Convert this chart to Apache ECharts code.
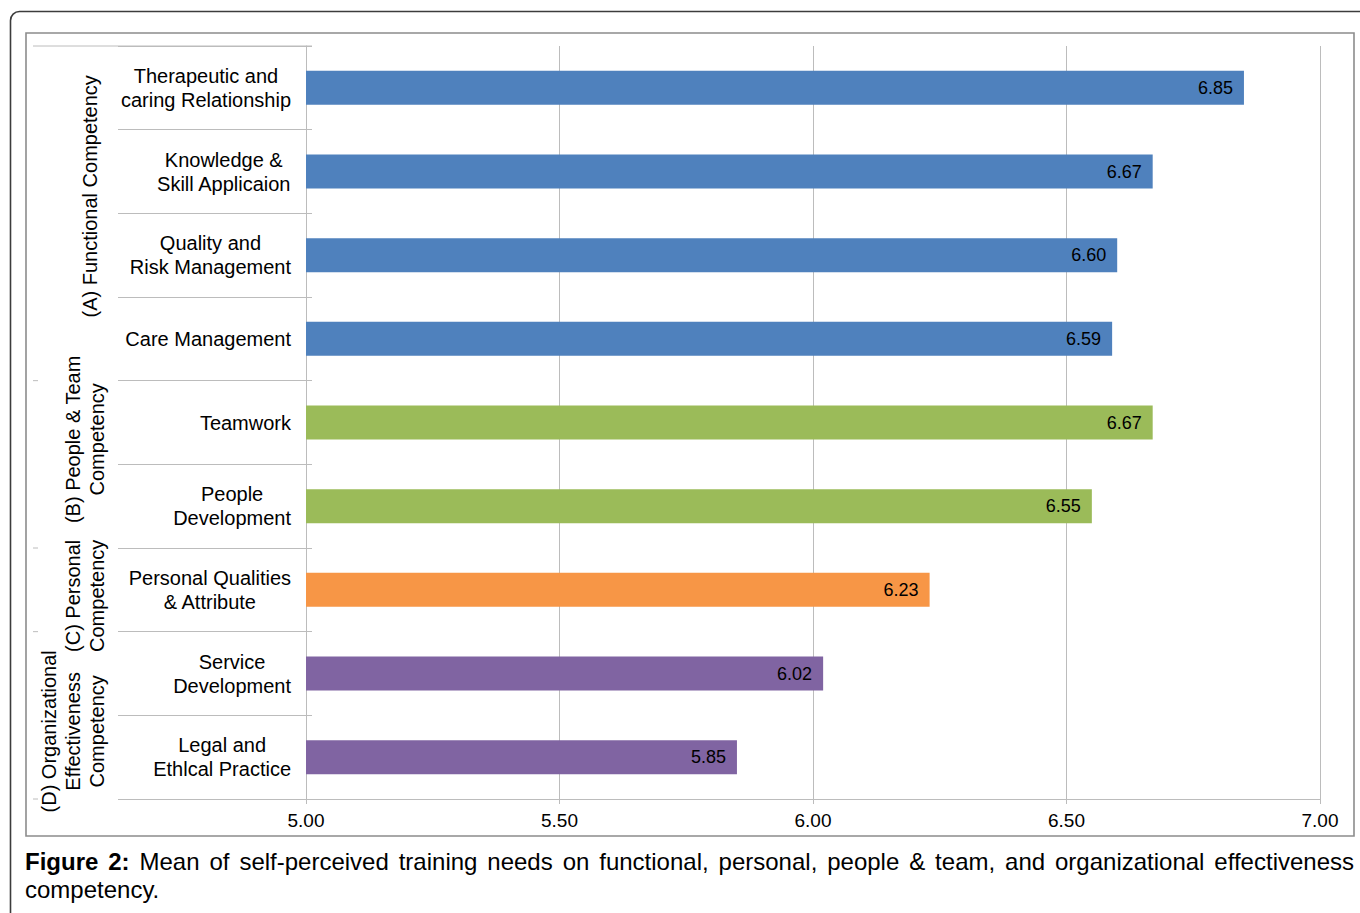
<!DOCTYPE html>
<html>
<head>
<meta charset="utf-8">
<script src="https://cdn.jsdelivr.net/npm/echarts@6/dist/echarts.min.js"></script>
<style>
  html, body { margin: 0; padding: 0; background: #ffffff; }
  #chart { width: 1360px; height: 913px; }
</style>
</head>
<body>
<div id="chart"></div>
<script>
// ---- data ----
const categories = [
  'Therapeutic and\ncaring Relationship',
  'Knowledge &\nSkill Applicaion',
  'Quality and\nRisk Management',
  'Care Management',
  'Teamwork',
  'People\nDevelopment',
  'Personal Qualities\n& Attribute',
  'Service\nDevelopment',
  'Legal and\nEthlcal Practice'
];
const values = [6.85, 6.67, 6.60, 6.59, 6.67, 6.55, 6.23, 6.02, 5.85];
const categoryGroup = [0, 0, 0, 0, 1, 1, 2, 3, 3];
const groupNames = [
  '(A) Functional Competency',
  '(B) People & Team\nCompetency',
  '(C) Personal\nCompetency',
  '(D) Organizational\nEffectiveness\nCompetency'
];
const groupColors = ['#4F81BD', '#9BBB59', '#F79646', '#8064A2'];
const axisMin = 5.0, axisMax = 7.0, axisStep = 0.5;
const captionBold = 'Figure 2:';
const captionLine1 = 'Mean of self-perceived training needs on functional, personal, people & team, and organizational effectiveness';
const captionLine2 = 'competency.';

// ---- layout (not data) ----
const FONT = '"Liberation Sans", Arial, sans-serif';
const groupLabelX = [90, 85, 85, 73];
const groupLabelDy = [-17, -25, 6, 16];
const gridColor = '#bcbcbc';

const chart = echarts.init(document.getElementById('chart'), null, { renderer: 'svg' });

const option = {
  animation: false,
  backgroundColor: '#ffffff',
  textStyle: { fontFamily: FONT },
  grid: { left: 306, top: 46, width: 1014, height: 753, containLabel: false },
  xAxis: {
    type: 'value',
    min: axisMin, max: axisMax, interval: axisStep,
    axisLine: { show: true, lineStyle: { color: gridColor, width: 1 } },
    axisTick: { show: true, length: 5, lineStyle: { color: gridColor } },
    splitLine: { show: true, lineStyle: { color: gridColor, width: 1 } },
    axisLabel: {
      formatter: v => v.toFixed(2),
      fontSize: 19, color: '#000', margin: 12, fontFamily: FONT
    }
  },
  yAxis: [
    {
      type: 'category', inverse: true, data: categories, position: 'left',
      axisLine: { show: true, lineStyle: { color: gridColor, width: 1 } },
      axisTick: { show: false },
      axisLabel: {
        margin: 15,
        align: 'right',
        formatter: v => v.split('\n').map(s => '{c|' + s + '}').join('\n'),
        rich: { c: { align: 'center', fontSize: 20, lineHeight: 24, color: '#000', fontFamily: FONT } }
      }
    },
    {
      type: 'category', inverse: true, data: categories, position: 'left', offset: -6,
      axisLine: { show: false },
      axisTick: { show: true, length: 194, interval: 0, lineStyle: { color: gridColor } },
      axisLabel: { show: false }
    }
  ],
  series: [{
    type: 'bar',
    yAxisIndex: 0,
    barWidth: 34,
    data: values.map((v, i) => ({ value: v, itemStyle: { color: groupColors[categoryGroup[i]] } })),
    label: {
      show: true, position: 'insideRight', distance: 11,
      formatter: p => p.value.toFixed(2),
      fontSize: 18, color: '#000', fontFamily: FONT
    }
  }]
};
chart.setOption(option);

// ---- decorations computed from the axes ----
const yFirst = chart.convertToPixel({ yAxisIndex: 0 }, 0);
const ySecond = chart.convertToPixel({ yAxisIndex: 0 }, 1);
const band = ySecond - yFirst;
const catTop = yFirst - band / 2;
const xAxisLeft = chart.convertToPixel({ xAxisIndex: 0 }, axisMin);

const graphics = [];
// outer frame
graphics.push({ type: 'rect', shape: { x: 10.5, y: 11.5, width: 1420, height: 1000, r: 9 },
  style: { fill: 'none', stroke: '#3c3c3c', lineWidth: 1.6 }, silent: true, z: 0 });
// inner frame
graphics.push({ type: 'rect', shape: { x: 26, y: 33, width: 1328, height: 803 },
  style: { fill: 'none', stroke: '#8c8c8c', lineWidth: 1.6 }, silent: true, z: 0 });
// top line of category area
graphics.push({ type: 'line', shape: { x1: 33, y1: catTop, x2: xAxisLeft + 6, y2: catTop },
  style: { stroke: gridColor, lineWidth: 1 }, silent: true });

// group boundaries and labels
const groupCount = groupNames.length;
for (let g = 0; g < groupCount; g++) {
  const idx = categories.map((c, i) => i).filter(i => categoryGroup[i] === g);
  const first = idx[0], last = idx[idx.length - 1];
  const gTop = chart.convertToPixel({ yAxisIndex: 0 }, first) - band / 2;
  const gBot = chart.convertToPixel({ yAxisIndex: 0 }, last) + band / 2;
  graphics.push({ type: 'line', shape: { x1: 33, y1: gBot, x2: 38, y2: gBot },
    style: { stroke: gridColor, lineWidth: 1 }, silent: true });
  graphics.push({
    type: 'text', x: groupLabelX[g], y: (gTop + gBot) / 2 + groupLabelDy[g], rotation: Math.PI / 2,
    style: { text: groupNames[g], fontSize: 20, lineHeight: 24, fill: '#000', fontFamily: FONT,
      align: 'center', verticalAlign: 'middle' }
  });
}

// justified caption
const cv = document.createElement('canvas').getContext('2d');
const capSize = 24;
const boldFont = 'bold ' + capSize + 'px ' + FONT;
const normFont = capSize + 'px ' + FONT;
const words = [];
captionBold.split(' ').forEach(w => words.push({ t: w, bold: true }));
captionLine1.split(' ').forEach(w => words.push({ t: w, bold: false }));
words.forEach(w => { cv.font = w.bold ? boldFont : normFont; w.w = cv.measureText(w.t).width; });
const lineLeft = 25, lineRight = 1354;
const totalW = words.reduce((s, w) => s + w.w, 0);
const gap = (lineRight - lineLeft - totalW) / (words.length - 1);
let cx = lineLeft;
words.forEach(w => {
  graphics.push({ type: 'text', x: cx, y: 861,
    style: { text: w.t, fontSize: capSize, fontWeight: w.bold ? 'bold' : 'normal', fill: '#000',
      fontFamily: FONT, align: 'left', verticalAlign: 'middle' } });
  cx += w.w + gap;
});
graphics.push({ type: 'text', x: lineLeft, y: 889,
  style: { text: captionLine2, fontSize: capSize, fill: '#000', fontFamily: FONT,
    align: 'left', verticalAlign: 'middle' } });

chart.setOption({ graphic: graphics });
</script>
</body>
</html>
